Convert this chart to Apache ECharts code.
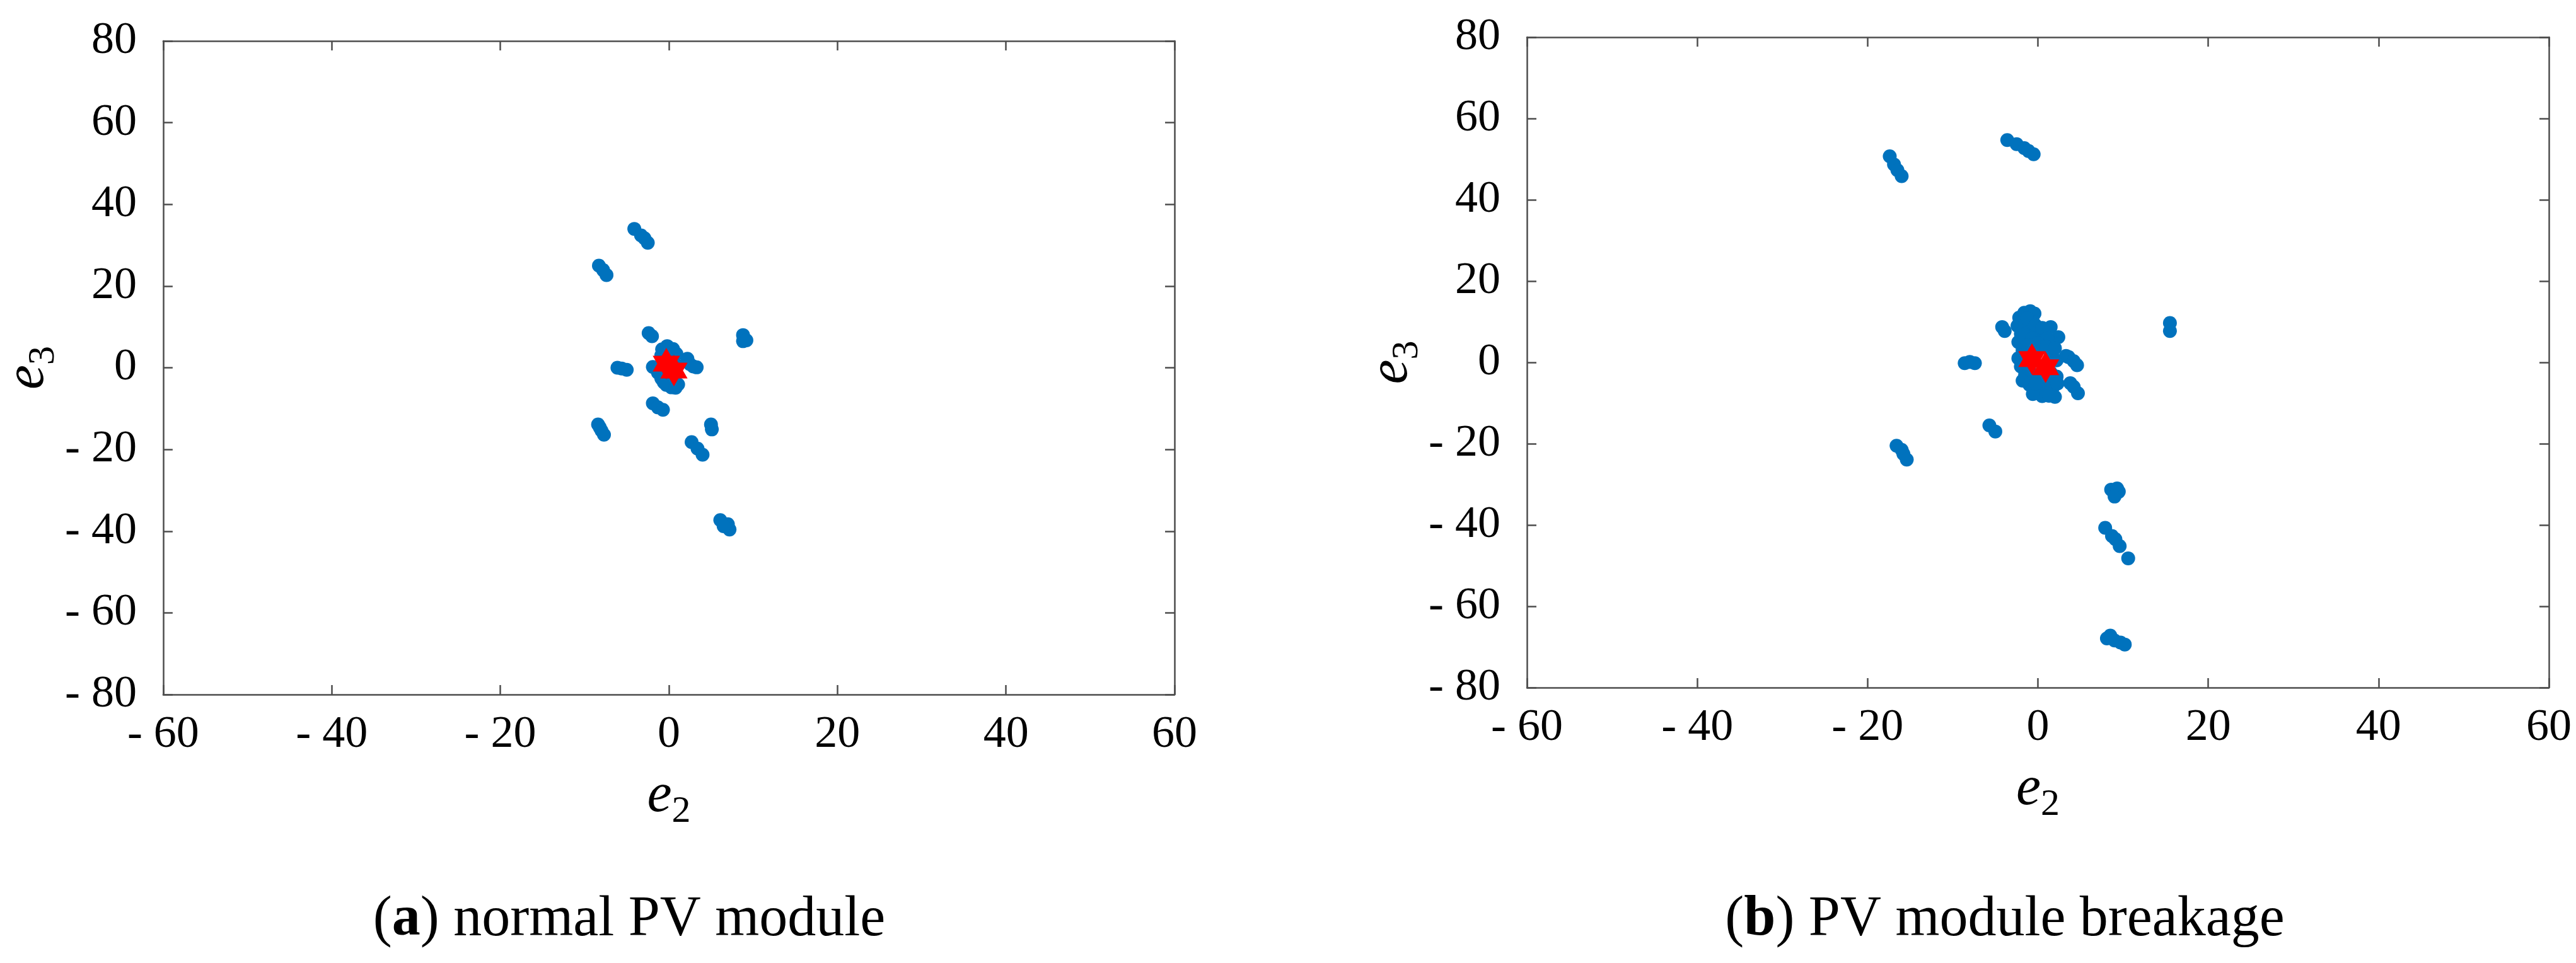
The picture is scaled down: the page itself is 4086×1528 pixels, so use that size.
<!DOCTYPE html>
<html>
<head>
    <meta charset="utf-8">
    <title>e2-e3 scatter</title>
    <script src="https://cdn.jsdelivr.net/npm/echarts@6/dist/echarts.min.js"></script>
    <style>
        html, body { margin: 0; padding: 0; background: #fff; }
        #chart { width: 4086px; height: 1528px; }
    </style>
</head>
<body>
    <div id="chart"></div>
    <script>
        // axis ranges (both panels share them)
        var xRange = [-60, 60];
        var yRange = [-80, 80];
        var tickStep = 20;

        // (a) normal PV module, [e2, e3]
        var normalPoints = [
            [-4.1, 34.0], [-3.3, 32.4], [-2.9, 31.7], [-2.5, 30.6],
            [-8.3, 25.0], [-7.8, 23.9], [-7.4, 22.7],
            [-2.4, 8.5], [-2.0, 7.7],
            [8.8, 8.0], [8.8, 6.5], [9.2, 6.7],
            [-0.8, 4.5], [-0.2, 5.3], [0.5, 4.6], [0.9, 3.4], [-0.9, 3.0], [-1.9, 0.2],
            [-1.3, -1.2], [-0.9, -2.6], [-0.6, -3.6], [0.3, -4.8], [1.1, -4.1], [0.7, -2.0],
            [0.2, 1.5], [-0.5, 0.5], [1.0, 0.5], [-0.3, -4.2], [0.8, -4.9],
            [2.2, 2.2], [2.5, 0.9], [3.3, 0.1], [2.9, 0.3],
            [-6.1, 0.0], [-5.6, -0.2], [-5.0, -0.5],
            [-1.9, -8.7], [-1.3, -9.7], [-0.7, -10.3],
            [-8.4, -13.9], [-8.2, -14.6], [-7.7, -16.4], [-8.0, -15.4],
            [5.0, -13.9], [5.1, -15.1],
            [2.7, -18.2], [3.4, -19.8], [4.0, -21.3],
            [6.1, -37.3], [7.0, -38.3], [7.2, -39.6], [6.5, -38.8]
        ];
        var normalStars = [[-0.3, 1.0], [0.6, -0.7]];

        // (b) PV module breakage, [e2, e3]
        var breakagePoints = [
            [-17.4, 50.7], [-16.9, 48.7], [-16.5, 47.3], [-16.0, 45.8],
            [-3.6, 54.7], [-2.5, 53.7], [-1.6, 52.7], [-1.1, 52.0], [-0.5, 51.2],
            [-4.2, 8.7], [-3.9, 7.7],
            [-2.2, 11.0], [-1.6, 12.2], [-0.9, 12.6], [-0.4, 12.0], [-2.4, 9.0], [-1.5, 9.5],
            [-0.6, 10.0], [-2.0, 7.0], [-1.0, 7.5], [-0.2, 8.0], [-2.3, 5.0], [-1.2, 5.5],
            [0.3, 6.5], [0.8, 7.5], [1.5, 8.7], [2.4, 6.2], [1.6, 5.0], [0.6, 4.0],
            [-1.8, 3.0], [-0.5, 2.5], [1.5, 2.5], [2.2, 0.5], [-2.3, 1.0], [-2.0, -1.0],
            [-1.5, -3.0], [-0.5, -4.0], [0.5, -3.5], [1.5, -2.5], [2.2, -3.5], [-1.0, -5.5],
            [0.0, -6.5], [1.0, -7.0], [1.8, -6.0], [2.0, -8.5], [0.5, -8.3], [-0.6, -7.8],
            [-1.3, 10.8], [-0.3, 9.2], [0.5, 8.5], [1.1, 6.0], [-1.6, 6.8], [-0.7, 5.8],
            [0.0, 4.8], [-1.2, 4.2], [1.0, 3.8], [-1.0, 1.5], [0.6, -1.5], [-1.0, -2.0],
            [-1.8, -4.5], [1.2, -5.0], [-0.2, -5.2], [2.3, -5.2], [1.3, -8.2], [2.0, 3.5],
            [3.3, 1.6], [3.6, 1.3], [4.2, 0.3], [4.6, -0.7],
            [3.8, -5.1], [4.2, -6.0], [4.7, -7.6],
            [-8.6, -0.2], [-8.0, 0.1], [-7.4, -0.2],
            [-5.7, -15.5], [-5.0, -17.0],
            [-16.6, -20.5], [-16.0, -21.5], [-15.8, -22.5], [-15.4, -23.9],
            [15.5, 9.7], [15.5, 7.7],
            [8.6, -31.3], [9.3, -31.0], [9.5, -31.8], [9.0, -33.0],
            [7.9, -40.7], [8.7, -42.7], [9.1, -43.5], [9.6, -45.2],
            [10.6, -48.2],
            [8.1, -67.9], [8.5, -67.2], [9.0, -68.4], [9.7, -68.9], [10.2, -69.4]
        ];
        var breakageStars = [[-0.7, 0.8], [0.9, -1.2]];

        var captions = [
            { bold: 'a', rest: ' normal PV module', x: 998 },
            { bold: 'b', rest: ' PV module breakage', x: 3180 }
        ];

        var serif = 'Liberation Serif';
        var blue = '#0072BD';
        var hexagram = 'path://M0,-10L2.887,-5L8.66,-5L5.774,0L8.66,5L2.887,5L0,10L-2.887,5L-8.66,5L-5.774,0L-8.66,-5L-2.887,-5Z';

        function tickText(v) {
            return v < 0 ? '- ' + (-v) : String(v);
        }

        var nameRich = {
            e: { fontFamily: serif, fontStyle: 'italic', fontSize: 88, color: '#000', verticalAlign: 'bottom', padding: [0, 0, 10, 0] },
            s: { fontFamily: serif, fontSize: 60, color: '#000', verticalAlign: 'bottom' }
        };

        var lineStyle = { color: '#4d4d4d', width: 2.5 };

        function mainX(grid, sub) {
            return {
                type: 'value', gridIndex: grid, position: 'bottom',
                min: xRange[0], max: xRange[1], interval: tickStep,
                name: '{e|e}{s|' + sub + '}', nameLocation: 'middle', nameGap: 118,
                nameTextStyle: { rich: nameRich },
                axisLine: { show: true, onZero: false, lineStyle: lineStyle },
                axisTick: { show: true, inside: true, length: 15, lineStyle: lineStyle },
                axisLabel: { margin: 28, fontFamily: serif, fontSize: 72, color: '#000', formatter: tickText },
                splitLine: { show: false }
            };
        }
        function sideX(grid) {
            return {
                type: 'value', gridIndex: grid, position: 'top',
                min: xRange[0], max: xRange[1], interval: tickStep,
                axisLine: { show: true, onZero: false, lineStyle: lineStyle },
                axisTick: { show: true, inside: true, length: 15, lineStyle: lineStyle },
                axisLabel: { show: false },
                splitLine: { show: false }
            };
        }
        function mainY(grid, sub, gap) {
            return {
                type: 'value', gridIndex: grid, position: 'left',
                min: yRange[0], max: yRange[1], interval: tickStep,
                name: '{e|e}{s|' + sub + '}', nameLocation: 'middle', nameGap: gap,
                nameTextStyle: { rich: nameRich },
                axisLine: { show: true, onZero: false, lineStyle: lineStyle },
                axisTick: { show: true, inside: true, length: 15, lineStyle: lineStyle },
                axisLabel: { margin: 42, fontFamily: serif, fontSize: 72, color: '#000', formatter: tickText },
                splitLine: { show: false }
            };
        }
        function sideY(grid) {
            return {
                type: 'value', gridIndex: grid, position: 'right',
                min: yRange[0], max: yRange[1], interval: tickStep,
                axisLine: { show: true, onZero: false, lineStyle: lineStyle },
                axisTick: { show: true, inside: true, length: 15, lineStyle: lineStyle },
                axisLabel: { show: false },
                splitLine: { show: false }
            };
        }

        function dots(idx, data) {
            return {
                type: 'scatter', xAxisIndex: idx, yAxisIndex: idx, data: data,
                symbol: 'circle', symbolSize: 22, itemStyle: { color: blue, opacity: 1 }, z: 2
            };
        }
        function stars(idx, data) {
            return {
                type: 'scatter', xAxisIndex: idx, yAxisIndex: idx, data: data,
                symbol: hexagram, symbolSize: 50, symbolKeepAspect: true,
                itemStyle: { color: '#ff0000', opacity: 1 }, z: 3
            };
        }

        var chart = echarts.init(document.getElementById('chart'));
        var option = {
            animation: false,
            backgroundColor: '#fff',
            grid: [
                { left: 242, top: 65, width: 1621, height: 1037 },
                { left: 2422, top: 59, width: 1621, height: 1032 }
            ],
            xAxis: [mainX(0, '2'), sideX(0), mainX(1, '2'), sideX(1)],
            yAxis: [mainY(0, '3', 140), sideY(0), mainY(1, '3', 128), sideY(1)],
            series: [
                dots(0, normalPoints), stars(0, normalStars),
                dots(2, breakagePoints), stars(2, breakageStars)
            ],
            graphic: captions.map(function (c) {
                return {
                    type: 'text', x: c.x, y: 1460,
                    style: {
                        text: '({b|' + c.bold + '})' + c.rest,
                        align: 'center', verticalAlign: 'middle',
                        fontFamily: serif, fontSize: 90, fill: '#000',
                        rich: { b: { fontFamily: serif, fontSize: 90, fontWeight: 'bold', fill: '#000' } }
                    }
                };
            })
        };
        chart.setOption(option);
    </script>
</body>
</html>
